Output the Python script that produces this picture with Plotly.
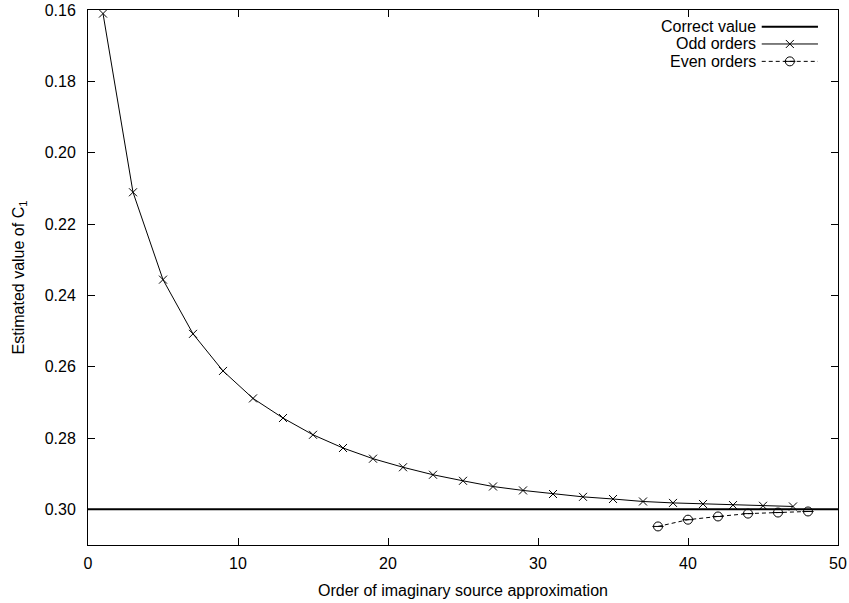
import plotly.graph_objects as go

# ---- data ----
odd_orders = [1, 3, 5, 7, 9, 11, 13, 15, 17, 19, 21, 23, 25, 27, 29, 31, 33, 35, 37, 39, 41, 43, 45, 47]
odd_values = [0.1610, 0.2111, 0.2356, 0.2508, 0.2612, 0.2689, 0.2744, 0.2791, 0.2828, 0.2858,
              0.2882, 0.2903, 0.2920, 0.2936, 0.2947, 0.2957, 0.2965, 0.2971, 0.2978, 0.2982,
              0.2985, 0.2988, 0.2990, 0.2992]
even_orders = [38, 40, 42, 44, 46, 48]
even_values = [0.3048, 0.3029, 0.3020, 0.3012, 0.3009, 0.3006]
correct_value = 0.30

legend_labels = ["Correct value", "Odd orders", "Even orders"]
x_ticks = [0, 10, 20, 30, 40, 50]
y_ticks = [0.16, 0.18, 0.20, 0.22, 0.24, 0.26, 0.28, 0.30]

FONT = "Liberation Sans, Arial, Helvetica, sans-serif"
FS = 16

fig = go.Figure()

# correct value line
fig.add_shape(type="line", xref="x domain", yref="y", x0=0, x1=1,
              y0=correct_value, y1=correct_value, line=dict(color="black", width=2))

fig.add_trace(go.Scatter(x=odd_orders, y=odd_values, mode="lines+markers",
                         line=dict(color="black", width=1),
                         marker=dict(symbol="x-thin-open", size=8, color="black",
                                     line=dict(width=1, color="black")),
                         showlegend=False))
fig.add_trace(go.Scatter(x=even_orders, y=even_values, mode="lines+markers",
                         line=dict(color="black", width=1, dash="4px,3px"),
                         marker=dict(symbol="circle-open", size=9, color="black",
                                     line=dict(width=1, color="black")),
                         showlegend=False))
fig.add_trace(go.Scatter(x=even_orders, y=even_values, mode="markers",
                         marker=dict(symbol="line-ew-open", size=8, color="black",
                                     line=dict(width=1, color="black")),
                         showlegend=False))

# ---- gnuplot-style legend (text left, sample right) ----
leg_text_x = 0.8947
leg_x0, leg_x1 = 0.8983, 0.9733
leg_mid = (leg_x0 + leg_x1) / 2
leg_rows = [0.9689, 0.9365, 0.9040]
for lbl, yy in zip(legend_labels, leg_rows):
    fig.add_annotation(xref="paper", yref="paper", x=leg_text_x, y=yy, text=lbl,
                       showarrow=False, xanchor="right", yanchor="middle", xshift=-1,
                       font=dict(family=FONT, size=FS, color="black"))
fig.add_shape(type="line", xref="paper", yref="paper", x0=leg_x0, x1=leg_x1,
              y0=leg_rows[0], y1=leg_rows[0], line=dict(color="black", width=2))
fig.add_trace(go.Scatter(x=[leg_x0, leg_mid, leg_x1], y=[leg_rows[1]] * 3, xaxis="x2", yaxis="y2",
                         mode="lines", line=dict(color="black", width=1), showlegend=False,
                         hoverinfo="skip"))
fig.add_trace(go.Scatter(x=[leg_mid], y=[leg_rows[1]], xaxis="x2", yaxis="y2", mode="markers",
                         marker=dict(symbol="x-thin-open", size=8, color="black",
                                     line=dict(width=1, color="black")),
                         showlegend=False, hoverinfo="skip"))
fig.add_trace(go.Scatter(x=[leg_x0, leg_x1], y=[leg_rows[2]] * 2, xaxis="x2", yaxis="y2",
                         mode="lines", line=dict(color="black", width=1, dash="4px,3px"),
                         showlegend=False, hoverinfo="skip"))
fig.add_trace(go.Scatter(x=[leg_mid], y=[leg_rows[2]], xaxis="x2", yaxis="y2", mode="markers",
                         marker=dict(symbol="circle-open", size=9, color="black",
                                     line=dict(width=1, color="black")),
                         showlegend=False, hoverinfo="skip"))
fig.add_trace(go.Scatter(x=[leg_mid], y=[leg_rows[2]], xaxis="x2", yaxis="y2", mode="markers",
                         marker=dict(symbol="line-ew-open", size=8, color="black",
                                     line=dict(width=1, color="black")),
                         showlegend=False, hoverinfo="skip"))

axis_common = dict(showgrid=False, zeroline=False, showline=True, linecolor="black",
                   linewidth=1, mirror="ticks", ticks="inside", ticklen=7,
                   tickcolor="black", tickwidth=1, automargin=False,
                   tickfont=dict(family=FONT, size=FS, color="black"))

fig.update_layout(
    width=849, height=603,
    margin=dict(l=88, r=11, t=10, b=58),
    paper_bgcolor="white", plot_bgcolor="white",
    showlegend=False,
    xaxis=dict(range=[0, 50], tickvals=x_ticks, ticklabelstandoff=4,
               title=dict(text="Order of imaginary source approximation",
                          font=dict(family=FONT, size=FS, color="black"), standoff=13),
               **axis_common),
    yaxis=dict(range=[0.31, 0.16], tickvals=y_ticks, tickformat=".2f", ticklabelstandoff=8,
               title=dict(text="Estimated value of C<sub>1</sub>",
                          font=dict(family=FONT, size=FS, color="black"), standoff=16),
               **axis_common),
    xaxis2=dict(overlaying="x", range=[0, 1], visible=False, fixedrange=True),
    yaxis2=dict(overlaying="y", range=[0, 1], visible=False, fixedrange=True),
)

fig.write_html("out.html")
